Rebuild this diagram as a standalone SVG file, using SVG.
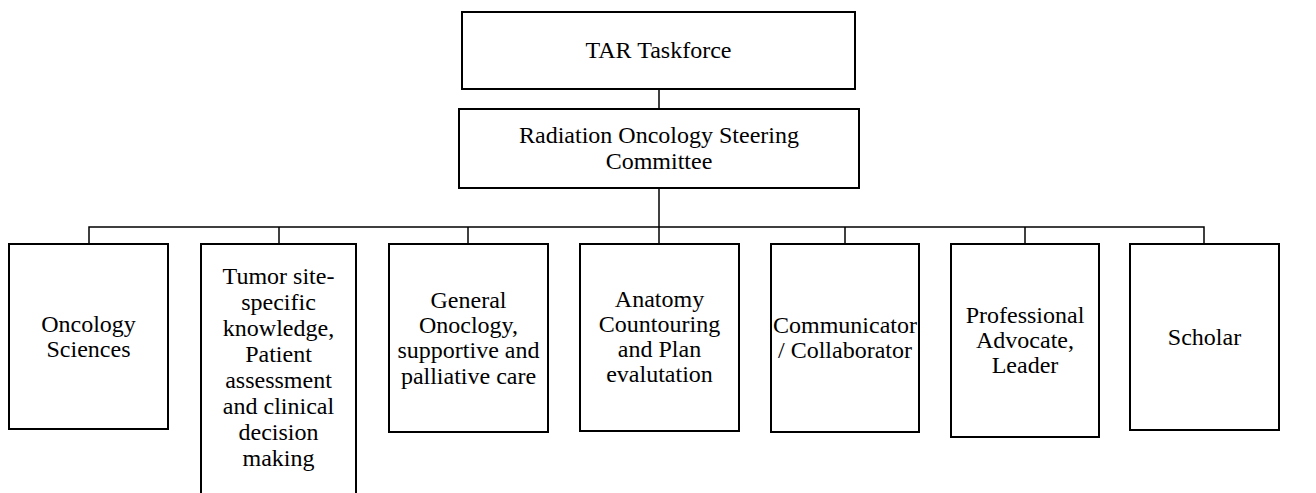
<svg xmlns="http://www.w3.org/2000/svg" width="1316" height="493" viewBox="0 0 1316 493">
<style>
.box{fill:#fff;stroke:#000;stroke-width:2}
.con{fill:none;stroke:#000;stroke-width:1.5}
text{font-family:"Liberation Serif","Times New Roman",serif;font-size:24px;fill:#000;text-anchor:middle}
</style>
<rect width="1316" height="493" fill="#fff"/>
<g id="connectors">
<line class="con" x1="659" y1="89" x2="659" y2="109"/>
<line class="con" x1="659" y1="188" x2="659" y2="227"/>
<polyline class="con" points="89,244 89,227 1204,227 1204,244"/>
<line class="con" x1="279" y1="227" x2="279" y2="244"/>
<line class="con" x1="468" y1="227" x2="468" y2="244"/>
<line class="con" x1="659" y1="227" x2="659" y2="244"/>
<line class="con" x1="845" y1="227" x2="845" y2="244"/>
<line class="con" x1="1025" y1="227" x2="1025" y2="244"/>
</g>
<g id="tar">
<rect class="box" x="462" y="12" width="393" height="77"/>
<text x="658.5" y="58">TAR Taskforce</text>
</g>
<g id="steering">
<rect class="box" x="459" y="109" width="400" height="79"/>
<text x="659" y="143">Radiation Oncology Steering</text>
<text x="659" y="169">Committee</text>
</g>
<g id="oncology-sciences">
<rect class="box" x="9" y="244" width="159" height="185"/>
<text x="88.5" y="332">Oncology</text>
<text x="88.5" y="357">Sciences</text>
</g>
<g id="tumor-site">
<rect class="box" x="201" y="244" width="155" height="260"/>
<text x="278.5" y="284">Tumor site-</text>
<text x="278.5" y="310">specific</text>
<text x="278.5" y="336">knowledge,</text>
<text x="278.5" y="362">Patient</text>
<text x="278.5" y="388">assessment</text>
<text x="278.5" y="414">and clinical</text>
<text x="278.5" y="440">decision</text>
<text x="278.5" y="466">making</text>
</g>
<g id="general-oncology">
<rect class="box" x="389" y="244" width="159" height="188"/>
<text x="468.5" y="308">General</text>
<text x="468.5" y="333">Onoclogy,</text>
<text x="468.5" y="358">supportive and</text>
<text x="468.5" y="384">palliative care</text>
</g>
<g id="anatomy">
<rect class="box" x="580" y="244" width="159" height="187"/>
<text x="659.5" y="307">Anatomy</text>
<text x="659.5" y="332">Countouring</text>
<text x="659.5" y="357">and Plan</text>
<text x="659.5" y="382">evalutation</text>
</g>
<g id="communicator">
<rect class="box" x="771" y="244" width="148" height="188"/>
<text x="845" y="333">Communicator</text>
<text x="845" y="358">/ Collaborator</text>
</g>
<g id="professional">
<rect class="box" x="951" y="244" width="148" height="193"/>
<text x="1025" y="323">Professional</text>
<text x="1025" y="348">Advocate,</text>
<text x="1025" y="373">Leader</text>
</g>
<g id="scholar">
<rect class="box" x="1130" y="244" width="149" height="186"/>
<text x="1204.5" y="345">Scholar</text>
</g>
</svg>
